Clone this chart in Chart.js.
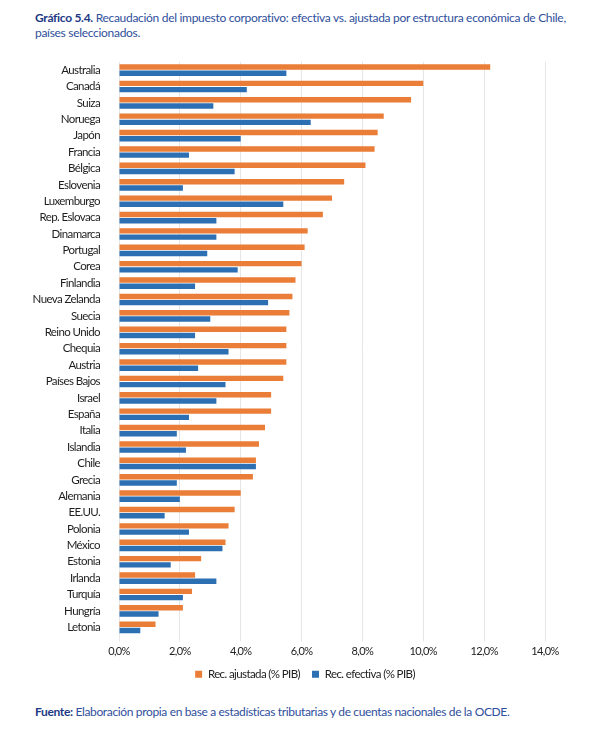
<!DOCTYPE html>
<html>
<head>
<meta charset="utf-8">
<script src="https://cdn.jsdelivr.net/npm/chart.js@4.4.1/dist/chart.umd.min.js"></script>
<style>
  html, body { margin: 0; padding: 0; background: #fff; }
  body { width: 596px; height: 740px; position: relative; overflow: hidden; font-family: Lato, sans-serif; }
  .title { position: absolute; left: 35px; top: 10px; font-size: 12px; line-height: 15.4px; letter-spacing: -0.3px;
           color: #2f4f9c; white-space: nowrap; }
  .title b, .source b { color: #1d3985; }
  .wrap { position: absolute; left: 0; top: 44px; width: 596px; height: 646px; }
  .source { position: absolute; left: 35px; top: 704px; font-size: 12px; letter-spacing: -0.35px; color: #2f4f9c; white-space: nowrap; }
</style>
</head>
<body>
<div class="title"><b>Gráfico 5.4.</b> Recaudación del impuesto corporativo: efectiva vs. ajustada por estructura económica de Chile,<br>países seleccionados.</div>
<div class="wrap"><canvas id="chart"></canvas></div>
<div class="source"><b>Fuente:</b> Elaboración propia en base a estadísticas tributarias y de cuentas nacionales de la OCDE.</div>
<script>
const countries = ['Australia', 'Canadá', 'Suiza', 'Noruega', 'Japón', 'Francia', 'Bélgica', 'Eslovenia',
  'Luxemburgo', 'Rep. Eslovaca', 'Dinamarca', 'Portugal', 'Corea', 'Finlandia', 'Nueva Zelanda', 'Suecia',
  'Reino Unido', 'Chequia', 'Austria', 'Países Bajos', 'Israel', 'España', 'Italia', 'Islandia', 'Chile',
  'Grecia', 'Alemania', 'EE.UU.', 'Polonia', 'México', 'Estonia', 'Irlanda', 'Turquía', 'Hungría', 'Letonia'];

// Rec. ajustada (% PIB)
const ajustada = [12.2, 10.0, 9.6, 8.7, 8.5, 8.4, 8.1, 7.4, 7.0, 6.7, 6.2, 6.1, 6.0, 5.8, 5.7, 5.6,
  5.5, 5.5, 5.5, 5.4, 5.0, 5.0, 4.8, 4.6, 4.5, 4.4, 4.0, 3.8, 3.6, 3.5, 2.7, 2.5, 2.4, 2.1, 1.2];

// Rec. efectiva (% PIB)
const efectiva = [5.5, 4.2, 3.1, 6.3, 4.0, 2.3, 3.8, 2.1, 5.4, 3.2, 3.2, 2.9, 3.9, 2.5, 4.9, 3.0,
  2.5, 3.6, 2.6, 3.5, 3.2, 2.3, 1.9, 2.2, 4.5, 1.9, 2.0, 1.5, 2.3, 3.4, 1.7, 3.2, 2.1, 1.3, 0.7];

const tickLabels = ['0,0%', '2,0%', '4,0%', '6,0%', '8,0%', '10,0%', '12,0%', '14,0%'];

const FONT = 'Lato, sans-serif';

// the original uses a narrow font, so tighten canvas text a little
const tightText = {
  id: 'tightText',
  beforeUpdate: chart => { chart.ctx.letterSpacing = '-0.6px'; },
  beforeDraw: chart => { chart.ctx.letterSpacing = '-0.6px'; }
};

document.addEventListener("DOMContentLoaded", function () {
  const ctx = document.getElementById('chart').getContext('2d');

  new Chart(ctx, {
    type: 'bar',
    data: {
      labels: countries,
      datasets: [
        { label: 'Rec. ajustada (% PIB)', data: ajustada, backgroundColor: '#ea7d37',
          categoryPercentage: 0.76, barPercentage: 0.87 },
        { label: 'Rec. efectiva (% PIB)', data: efectiva, backgroundColor: '#2c6fb2',
          categoryPercentage: 0.76, barPercentage: 0.87 }
      ]
    },
    plugins: [tightText],
    options: {
      indexAxis: 'y',
      responsive: true,
      maintainAspectRatio: false,
      animation: false,
      layout: { padding: { top: 6.5, right: 0, left: 14, bottom: 0 } },
      scales: {
        x: {
          min: 0, max: 14,
          afterFit: s => { s.height = 21; },
          ticks: {
            stepSize: 2, color: '#222', padding: 3,
            font: { family: FONT, size: 11 },
            callback: (v, i) => tickLabels[i]
          },
          grid: { color: '#e6e6e6', tickLength: 6 },
          border: { display: false }
        },
        y: {
          afterFit: s => { s.width = 105; },
          ticks: { color: '#1e1e1e', padding: 11, autoSkip: false, font: { family: FONT, size: 11.5 } },
          grid: { display: false },
          border: { display: false }
        },
        // empty strip on the right, keeps the plot narrower than the canvas
        yRight: {
          type: 'category',
          position: 'right',
          afterFit: s => { s.width = 51; },
          ticks: { display: false },
          grid: { display: false },
          border: { display: false }
        }
      },
      plugins: {
        legend: {
          position: 'bottom',
          labels: { boxWidth: 7, boxHeight: 7, color: '#222', padding: 12,
                    font: { family: FONT, size: 11.5 } }
        },
        tooltip: { enabled: false }
      }
    }
  });
});
</script>
</body>
</html>
